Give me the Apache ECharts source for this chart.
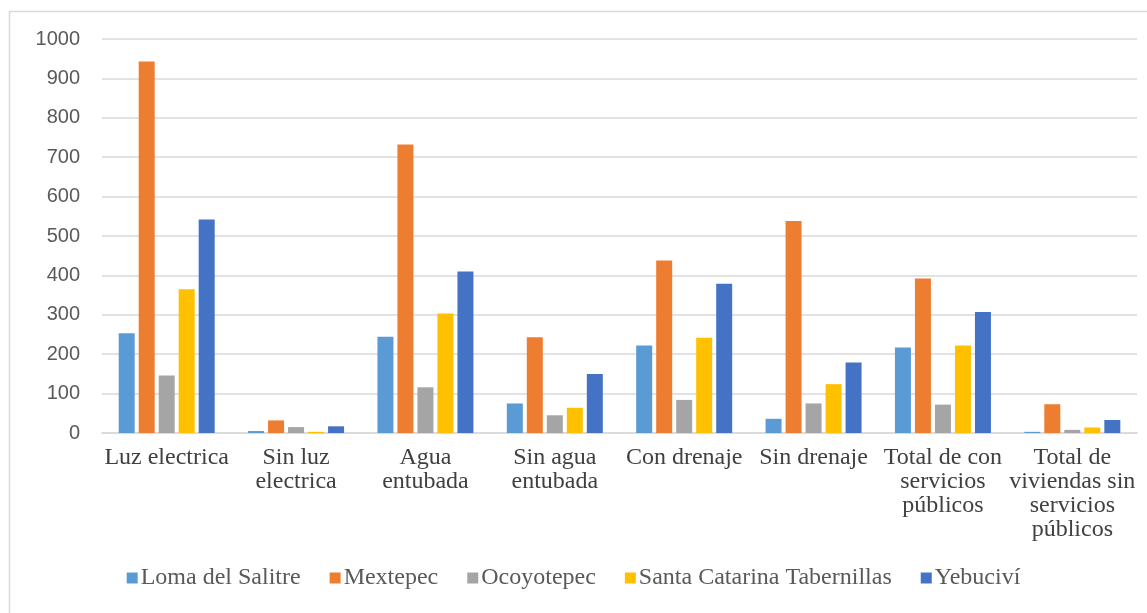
<!DOCTYPE html>
<html>
<head>
<meta charset="utf-8">
<script src="https://cdn.jsdelivr.net/npm/echarts@6/dist/echarts.min.js"></script>
<style>html,body{margin:0;padding:0;background:#fff}#c{width:1147px;height:613px}</style>
</head>
<body>
<div id="c"></div>
<script>
const categories = ["Luz electrica", "Sin luz\nelectrica", "Agua\nentubada", "Sin agua\nentubada", "Con drenaje", "Sin drenaje", "Total de con\nservicios\npúblicos", "Total de\nviviendas sin\nservicios\npúblicos"];
const seriesNames = ["Loma del Salitre", "Mextepec", "Ocoyotepec", "Santa Catarina Tabernillas", "Yebuciví"];
const lomaDelSalitre = [253, 5, 244, 75, 222, 36, 217, 3];
const mextepec = [943, 32, 732, 243, 438, 538, 392, 73];
const ocoyotepec = [146, 15, 116, 45, 84, 75, 72, 8];
const santaCatarina = [365, 3, 303, 64, 242, 124, 222, 14];
const yebucivi = [542, 17, 410, 150, 379, 179, 307, 33];
const yTicks = [0, 100, 200, 300, 400, 500, 600, 700, 800, 900, 1000];

const colors = ["#5B9BD5", "#ED7D31", "#A5A5A5", "#FFC000", "#4472C4"];
const values = [lomaDelSalitre, mextepec, ocoyotepec, santaCatarina, yebucivi];

const chart = echarts.init(document.getElementById('c'));
chart.setOption({
  animation: false,
  color: colors,
  graphic: [{
    type: 'rect', left: 7, top: 9, silent: true,
    shape: { width: 1139, height: 620 },
    style: { fill: 'none', stroke: '#d9d9d9', lineWidth: 1.5 }
  }],
  grid: { left: 102, right: 10, top: 39, bottom: 180 },
  legend: {
    top: 561, left: 'center',
    itemWidth: 11, itemHeight: 11, itemGap: 29,
    icon: 'rect',
    textStyle: { fontFamily: 'Liberation Serif', fontSize: 24, color: '#595959', padding: [0,0,0,-2] },
    data: seriesNames
  },
  xAxis: {
    type: 'category', data: categories,
    axisLine: { lineStyle: { color: '#d9d9d9', width: 1.5 } },
    axisTick: { show: false },
    axisLabel: { interval: 0, fontFamily: 'Liberation Serif', fontSize: 24, color: '#404040', lineHeight: 24, margin: 13 }
  },
  yAxis: {
    type: 'value', min: 0, max: 1000, interval: 100,
    axisLine: { show: false }, axisTick: { show: false },
    splitLine: { lineStyle: { color: '#d9d9d9', width: 1.5 } },
    axisLabel: { fontFamily: 'Liberation Sans', fontSize: 20, color: '#595959', margin: 22,
      formatter: v => yTicks.includes(v) ? String(v) : '' }
  },
  series: seriesNames.map((n, i) => ({
    name: n, type: 'bar', data: values[i],
    barWidth: 16, barGap: '25%',
    itemStyle: { color: colors[i] }
  }))
});
</script>
</body>
</html>
